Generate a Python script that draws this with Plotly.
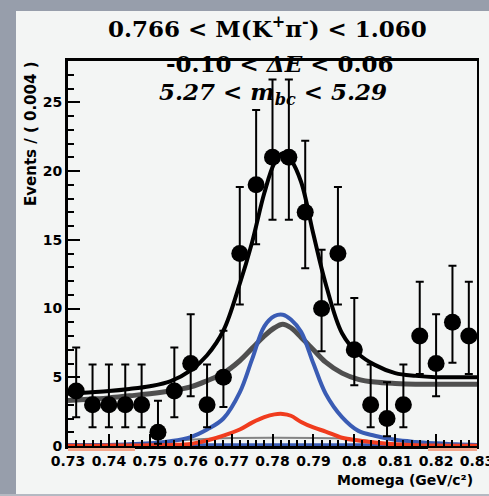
import plotly.graph_objects as go

# ---------------- data ----------------
bin_centers = [0.732, 0.736, 0.740, 0.744, 0.748, 0.752, 0.756, 0.760, 0.764, 0.768,
               0.772, 0.776, 0.780, 0.784, 0.788, 0.792, 0.796, 0.800, 0.804, 0.808,
               0.812, 0.816, 0.820, 0.824, 0.828]
counts = [4, 3, 3, 3, 3, 1, 4, 6, 3, 5, 14, 19, 21, 21, 17, 10, 14, 7, 3, 2, 3, 8, 6, 9, 8]
err_plus = [3.16, 2.92, 2.92, 2.92, 2.92, 2.30, 3.16, 3.58, 2.92, 3.38, 4.83, 5.44, 5.66,
            5.66, 5.20, 4.27, 4.83, 3.77, 2.92, 2.64, 2.92, 3.95, 3.58, 4.11, 3.95]
err_minus = [1.91, 1.63, 1.63, 1.63, 1.63, 0.83, 1.91, 2.38, 1.63, 2.16, 3.70, 4.32, 4.55,
             4.55, 4.08, 3.11, 3.70, 2.58, 1.63, 1.29, 1.63, 2.77, 2.38, 2.94, 2.77]

curve_x = [0.730, 0.735, 0.740, 0.745, 0.750, 0.755, 0.760, 0.764, 0.768, 0.772, 0.775,
           0.778, 0.7805, 0.7825, 0.7845, 0.787, 0.790, 0.793, 0.797, 0.801, 0.805,
           0.810, 0.815, 0.820, 0.825, 0.830]
total_fit = [3.8, 3.9, 4.0, 4.15, 4.35, 4.7, 5.5, 6.6, 8.4, 11.8, 14.8, 18.4, 20.6, 21.3,
             20.8, 19.2, 15.4, 11.8, 8.2, 6.7, 5.9, 5.3, 5.1, 5.0, 5.0, 5.0]
bkg_sum = [3.3, 3.4, 3.5, 3.65, 3.8, 4.0, 4.3, 4.75, 5.3, 6.2, 7.1, 8.0, 8.6, 8.85, 8.6,
           7.9, 7.0, 6.1, 5.3, 4.85, 4.65, 4.55, 4.5, 4.5, 4.5, 4.5]
signal = [0.05, 0.06, 0.08, 0.12, 0.2, 0.35, 0.65, 1.2, 2.0, 3.9, 6.3, 8.7, 9.45, 9.55,
          9.2, 8.3, 6.0, 3.8, 2.1, 1.1, 0.75, 0.45, 0.3, 0.2, 0.12, 0.08]
peaking = [0.02, 0.02, 0.03, 0.04, 0.05, 0.08, 0.15, 0.4, 0.75, 1.2, 1.7, 2.1, 2.3, 2.33,
           2.2, 1.75, 1.35, 1.05, 0.6, 0.4, 0.25, 0.12, 0.05, 0.03, 0.02, 0.02]
small_x = [0.750, 0.755, 0.762, 0.780, 0.800, 0.805, 0.810]
small_comp = [0.1, 0.35, 0.5, 0.6, 0.5, 0.3, 0.1]
flat_x = [0.730, 0.830]
flat_y = [0.1, 0.1]

x_tickvals = [0.73, 0.74, 0.75, 0.76, 0.77, 0.78, 0.79, 0.80, 0.81, 0.82, 0.83]
x_ticktext = ["0.73", "0.74", "0.75", "0.76", "0.77", "0.78", "0.79", "0.8", "0.81", "0.82", "0.83"]
y_tickvals = [0, 5, 10, 15, 20, 25]
y_ticktext = ["0", "5", "10", "15", "20", "25"]

title1 = "0.766 &lt; M(K<sup>+</sup>π<sup>-</sup>) &lt; 1.060"
title2 = "-0.10 &lt; <i>ΔE</i> &lt; 0.06"
title3 = "<i>5.27 &lt; m<sub>bc</sub> &lt; 5.29</i>"
y_title = "Events / ( 0.004 )"
x_title = "Momega (GeV/c²)"

# ---------------- figure ----------------
W, H = 489, 496
L, R, T, B = 68, 12, 61, 50
PW, PH = W - L - R, H - T - B


def pxx(px):
    return (px - L) / PW


def pyy(py):
    return (H - B - py) / PH


BG = "#f3f5f4"
GRAYBORDER = "#979eab"

fig = go.Figure()
fig.add_trace(go.Scatter(x=flat_x, y=flat_y, mode="lines",
                         line=dict(color="#3a5cb4", width=3), hoverinfo="skip"))
fig.add_trace(go.Scatter(x=small_x, y=small_comp, mode="lines", line_shape="spline",
                         line=dict(color="#555555", width=2), opacity=0.7, hoverinfo="skip"))
fig.add_trace(go.Scatter(x=curve_x, y=bkg_sum, mode="lines", line_shape="spline",
                         line=dict(color="#333333", width=5), opacity=0.85, hoverinfo="skip"))
fig.add_trace(go.Scatter(x=curve_x, y=signal, mode="lines", line_shape="spline",
                         line=dict(color="#3a5cb4", width=4), hoverinfo="skip"))
fig.add_trace(go.Scatter(x=curve_x, y=peaking, mode="lines", line_shape="spline",
                         line=dict(color="#f03c1e", width=4), hoverinfo="skip"))
fig.add_trace(go.Scatter(x=curve_x, y=total_fit, mode="lines", line_shape="spline",
                         line=dict(color="#000000", width=4), hoverinfo="skip"))
fig.add_trace(go.Scatter(
    x=bin_centers, y=counts, mode="markers",
    marker=dict(color="black", size=17, symbol="circle"),
    error_y=dict(type="data", symmetric=False, array=err_plus, arrayminus=err_minus,
                 color="black", thickness=2, width=4),
))

axis_common = dict(
    showline=True, linecolor="black", linewidth=3, mirror=True,
    ticks="inside", tickcolor="black", tickwidth=2, ticklen=12,
    showgrid=False, zeroline=False, ticklabeloverflow="allow",
    automargin=False, tickangle=0,
    tickfont=dict(family="DejaVu Sans", size=14, color="black", weight="bold"),
)

fig.update_layout(
    width=W, height=H,
    margin=dict(l=L, r=R, t=T, b=B, pad=0, autoexpand=False),
    paper_bgcolor=BG, plot_bgcolor=BG,
    showlegend=False,
    xaxis=dict(range=[0.73, 0.83], tickvals=x_tickvals, ticktext=x_ticktext,
               minor=dict(dtick=0.002, ticks="inside", ticklen=6, tickwidth=2, tickcolor="black"),
               **axis_common),
    yaxis=dict(range=[0, 28], tickvals=y_tickvals, ticktext=y_ticktext,
               minor=dict(dtick=1, ticks="inside", ticklen=6, tickwidth=2, tickcolor="black"),
               **axis_common),
    shapes=[
        # grey frame around the light panel (kept inside the page)
        dict(type="rect", xref="paper", yref="paper", x0=pxx(0), x1=pxx(16),
             y0=pyy(H), y1=pyy(0), fillcolor=GRAYBORDER, line=dict(width=0), layer="below"),
        dict(type="rect", xref="paper", yref="paper", x0=pxx(0), x1=pxx(W),
             y0=pyy(11), y1=pyy(0), fillcolor=GRAYBORDER, line=dict(width=0), layer="below"),
        dict(type="rect", xref="paper", yref="paper", x0=pxx(0), x1=pxx(W),
             y0=pyy(H), y1=pyy(494), fillcolor="#b4b9c2", line=dict(width=0), layer="below"),
        # light panel on the right edge, drawn on top
        dict(type="rect", xref="paper", yref="paper", x0=pxx(479), x1=pxx(W),
             y0=pyy(452), y1=pyy(11), fillcolor=BG, line=dict(width=0), layer="above"),
        dict(type="rect", xref="paper", yref="paper", x0=pxx(479), x1=pxx(W),
             y0=pyy(494), y1=pyy(470), fillcolor=BG, line=dict(width=0), layer="above"),
        dict(type="line", xref="paper", yref="paper", x0=pxx(68), x1=pxx(135),
             y0=pyy(449.5), y1=pyy(449.5), line=dict(color="#f4a58a", width=3)),
        dict(type="line", xref="paper", yref="paper", x0=pxx(428), x1=pxx(477),
             y0=pyy(449.5), y1=pyy(449.5), line=dict(color="#f4a58a", width=3)),
    ],
)

title_font = dict(family="DejaVu Serif", size=23, color="black", weight="bold")
fig.add_annotation(text=title1, xref="paper", yref="paper", x=pxx(267), y=pyy(27),
                   xanchor="center", yanchor="middle", showarrow=False, font=title_font)
fig.add_annotation(text=title2, xref="paper", yref="paper", x=pxx(280), y=pyy(63),
                   xanchor="center", yanchor="middle", showarrow=False, font=title_font)
fig.add_annotation(text=title3, xref="paper", yref="paper", x=pxx(273), y=pyy(93),
                   xanchor="center", yanchor="middle", showarrow=False,
                   font=dict(family="DejaVu Serif", size=23, color="black", weight="bold"))
fig.add_annotation(text=y_title, xref="paper", yref="paper", x=pxx(31), y=pyy(134),
                   xanchor="center", yanchor="middle", textangle=-90, showarrow=False,
                   font=dict(family="DejaVu Sans", size=15, color="black", weight="bold"))
fig.add_annotation(text=x_title, xref="paper", yref="paper", x=pxx(475), y=pyy(480),
                   xanchor="right", yanchor="middle", showarrow=False,
                   font=dict(family="DejaVu Sans", size=14, color="black", weight="bold"))

fig.write_html("out.html")
